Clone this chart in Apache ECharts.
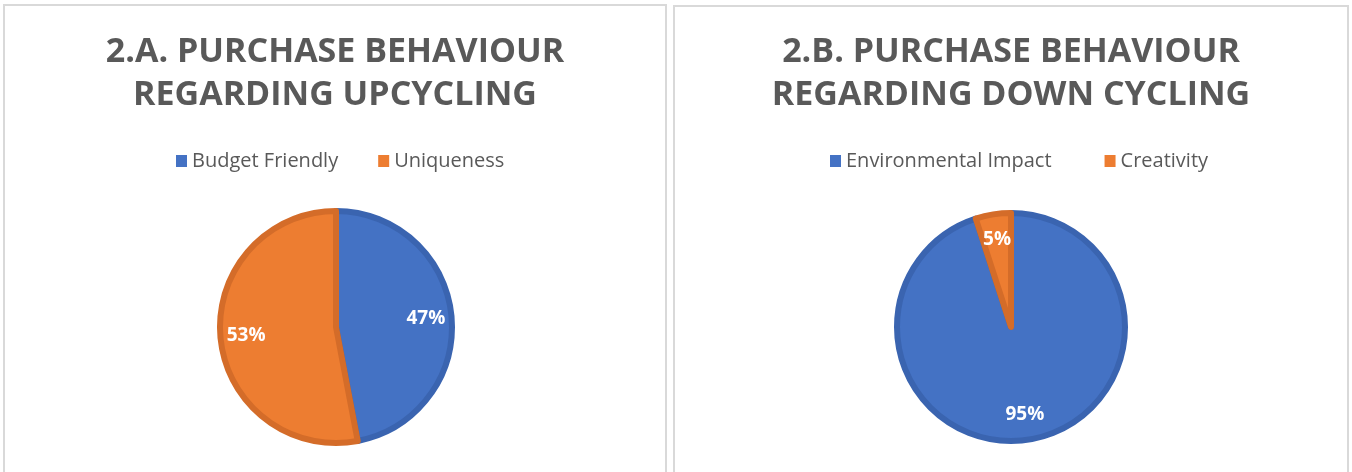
<!DOCTYPE html>
<html>
<head>
<meta charset="utf-8">
<script src="https://cdn.jsdelivr.net/npm/echarts@6/dist/echarts.min.js"></script>
<style>
  html, body { margin: 0; padding: 0; background: #fff; }
  #chart { width: 1352px; height: 472px; }
</style>
</head>
<body>
<div id="chart"></div>
<script>
// chart A
const titleA = '2.A. PURCHASE BEHAVIOUR\nREGARDING UPCYCLING';
const namesA = ['Budget Friendly', 'Uniqueness'];
const valuesA = [47, 53];
// chart B
const titleB = '2.B. PURCHASE BEHAVIOUR\nREGARDING DOWN CYCLING';
const namesB = ['Environmental Impact', 'Creativity'];
const valuesB = [95, 5];

const fill = ['#4472C4', '#ED7D31'];
const edge = ['#3A64B0', '#D46C29'];

function slices(names, values) {
  return names.map(function (n, i) {
    return {
      name: n,
      value: values[i],
      itemStyle: { color: fill[i], borderColor: edge[i], borderWidth: 6 }
    };
  });
}

function pieSeries(names, values, cx, cy, r) {
  return [
    {
      type: 'pie',
      center: [cx, cy],
      radius: [0, r - 2],
      startAngle: 90,
      clockwise: true,
      silent: true,
      label: { show: false },
      labelLine: { show: false },
      data: slices(names, values)
    },
    {
      // label ring only, so the text sits at ~3/4 of the radius
      type: 'pie',
      center: [cx, cy],
      radius: [r * 0.48, r],
      startAngle: 90,
      clockwise: true,
      silent: true,
      legendHoverLink: false,
      itemStyle: { color: 'transparent', borderWidth: 0 },
      label: {
        show: true,
        position: 'inside',
        formatter: '{d}%',
        color: '#fff',
        fontFamily: 'Open Sans',
        fontWeight: 'bold',
        fontSize: 19
      },
      labelLine: { show: false },
      data: names.map(function (n, i) { return { name: n + ' ', value: values[i] }; })
    }
  ];
}

const chart = echarts.init(document.getElementById('chart'));

const titleStyle = {
  fontFamily: 'Open Sans',
  fontWeight: 'bold',
  fontSize: 34,
  lineHeight: 43,
  color: '#595959'
};
const legendText = { fontFamily: 'Open Sans', fontSize: 20, color: '#595959' };

const option = {
  animation: false,
  backgroundColor: '#fff',
  title: [
    { text: titleA, left: 335, top: 31, padding: 0, textAlign: 'center', textStyle: titleStyle },
    { text: titleB, left: 1011, top: 31, padding: 0, textAlign: 'center', textStyle: titleStyle }
  ],
  legend: [
    {
      data: namesA, left: 176, top: 151, padding: 0, icon: 'rect',
      itemWidth: 11, itemHeight: 12, itemGap: 40,
      itemStyle: { borderWidth: 0 }, textStyle: legendText
    },
    {
      data: namesB, left: 830, top: 151, padding: 0, icon: 'rect',
      itemWidth: 11, itemHeight: 12, itemGap: 53,
      itemStyle: { borderWidth: 0 }, textStyle: legendText
    }
  ],
  graphic: [
    { type: 'rect', shape: { x: 4, y: 5, width: 662, height: 480 }, style: { fill: 'none', stroke: '#D9D9D9', lineWidth: 2 } },
    { type: 'rect', shape: { x: 674, y: 6, width: 674, height: 480 }, style: { fill: 'none', stroke: '#D9D9D9', lineWidth: 2 } }
  ],
  series: pieSeries(namesA, valuesA, 336, 327, 118).concat(pieSeries(namesB, valuesB, 1011, 327, 116))
};

chart.setOption(option);
</script>
</body>
</html>
